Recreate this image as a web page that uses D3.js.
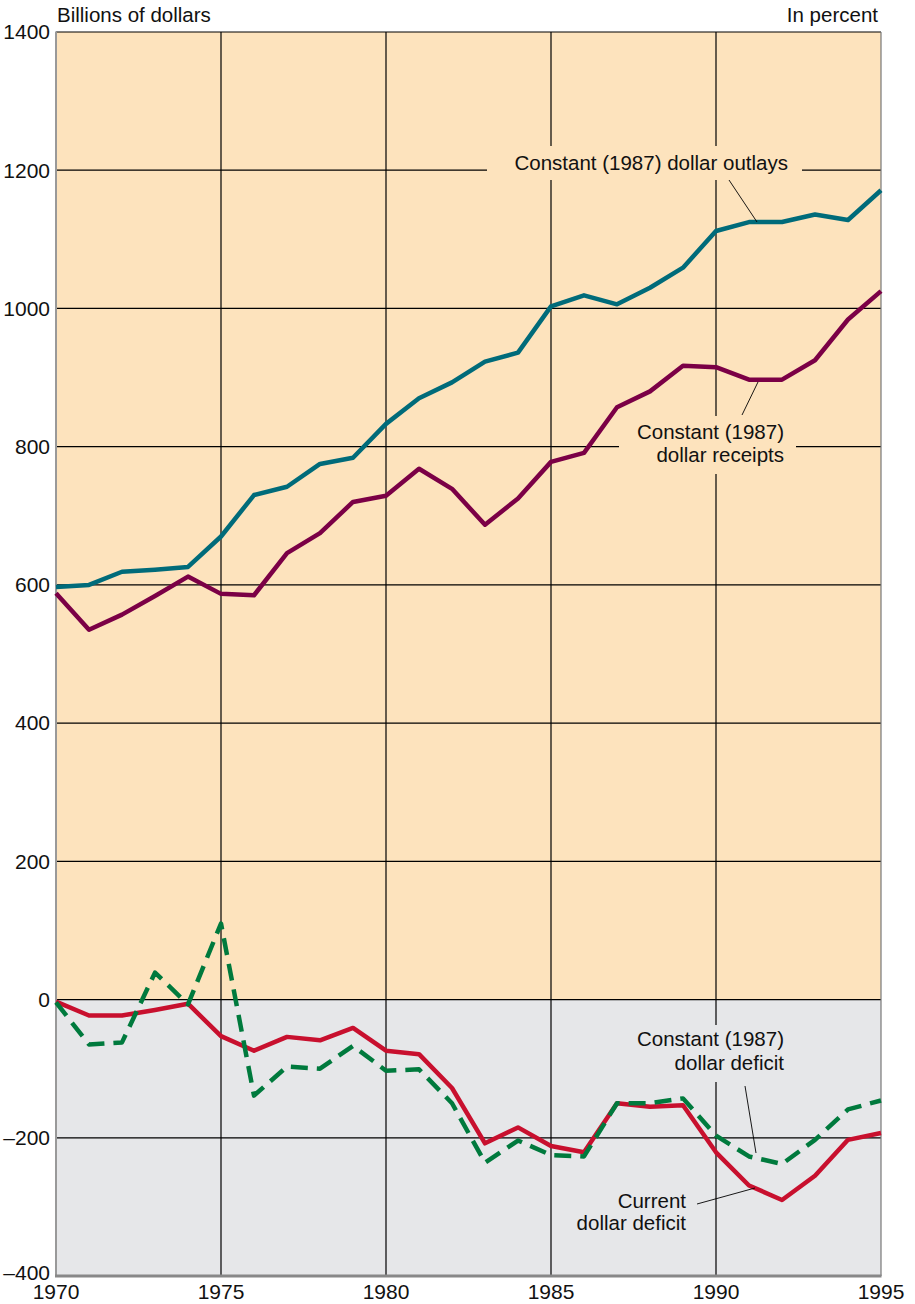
<!DOCTYPE html>
<html><head><meta charset="utf-8">
<script src="https://cdn.jsdelivr.net/npm/d3@7"></script>
<style>body{margin:0;background:#fff}svg{display:block;font-family:"Liberation Sans",Arial,sans-serif}</style>
</head><body><svg id="c" width="915" height="1304"></svg>
<script>
const years = d3.range(1970, 1996);
const outlays = [597,600,619,622,626,670,730,742,775,784,833,870,893,923,936,1003,1019,1006,1030,1059,1112,1125,1125,1136,1128,1171];
const receipts = [588,535,557,584,612,587,585,646,675,720,729,768,739,687,725,778,791,857,880,917,915,897,897,925,984,1025];
const currentDeficit = [-3,-23,-23,-15,-6,-53,-74,-54,-59,-41,-74,-79,-128,-208,-185,-212,-221,-150,-155,-153,-221,-269,-290,-255,-203,-193];
const constantDeficit = [-4,-65,-62,39,-7,110,-139,-97,-100,-67,-103,-101,-150,-236,-204,-225,-227,-150,-150,-143,-197,-227,-238,-203,-159,-146];
const yTicks = [-400,-200,0,200,400,600,800,1000,1200,1400];
const xTicks = [1970,1975,1980,1985,1990,1995];

const svg = d3.select("#c");
const x = d3.scaleLinear().domain([1970,1995]).range([56,881]);
const y = d3.scaleLinear().domain([-400,1400]).range([1276,32]);

// backgrounds
svg.append("rect").attr("x",x(1970)).attr("y",y(1400)).attr("width",x(1995)-x(1970)).attr("height",y(0)-y(1400)).attr("fill","#fde3bd");
svg.append("rect").attr("x",x(1970)).attr("y",y(0)).attr("width",x(1995)-x(1970)).attr("height",y(-400)-y(0)).attr("fill","#e6e7e9");

// gridlines
svg.append("g").selectAll("line").data(yTicks.filter(d=>d>-400)).join("line")
  .attr("x1",x(1970)).attr("x2",x(1995)).attr("y1",d=>y(d)).attr("y2",d=>y(d))
  .attr("stroke","#000").attr("stroke-width",1.2);
svg.append("g").selectAll("line").data(xTicks.filter(d=>d>1970&&d<1995)).join("line")
  .attr("x1",d=>x(d)).attr("x2",d=>x(d)).attr("y1",y(1400)).attr("y2",y(-400))
  .attr("stroke","#000").attr("stroke-width",1.2);
// axes borders
svg.append("line").attr("x1",x(1995)).attr("x2",x(1995)).attr("y1",y(1400)).attr("y2",y(-400)).attr("stroke","#777").attr("stroke-width",1.2);
svg.append("line").attr("x1",x(1970)).attr("x2",x(1970)).attr("y1",y(1400)-0.5).attr("y2",y(-400)).attr("stroke","#999").attr("stroke-width",2);
svg.append("line").attr("x1",x(1970)-1).attr("x2",x(1995)+0.5).attr("y1",y(-400)).attr("y2",y(-400)).attr("stroke","#888").attr("stroke-width",3);

// label background patches (break gridlines)
const bgTop = "#fde3bd", bgBot = "#e6e7e9";
[[487,146,315,34,bgTop],[619,416,177,58,bgTop],[626,1025,160,57,bgBot]].forEach(r=>{
  svg.append("rect").attr("x",r[0]).attr("y",r[1]).attr("width",r[2]).attr("height",r[3]).attr("fill",r[4]);
});

// tick labels
svg.append("g").selectAll("text").data(yTicks).join("text")
  .attr("x",50).attr("y",d=>d===-400?y(d)-3:y(d)).attr("dy","0.35em").attr("text-anchor","end")
  .attr("font-size",21).attr("fill","#111").text(d=>d<0?"\u2013"+Math.abs(d):d);
svg.append("g").selectAll("text").data(xTicks).join("text")
  .attr("x",d=>x(d)).attr("y",1299).attr("text-anchor","middle")
  .attr("font-size",21).attr("fill","#111").text(d=>d);
svg.append("text").attr("x",57).attr("y",22).attr("font-size",20.5).attr("fill","#111").text("Billions of dollars");
svg.append("text").attr("x",878).attr("y",22).attr("text-anchor","end").attr("font-size",20.5).attr("fill","#111").text("In percent");

// data lines
const line = d3.line().x((d,i)=>x(years[i])).y(d=>y(d));
function draw(data,color,dash){
  const p = svg.append("path").attr("d",line(data)).attr("fill","none").attr("stroke",color)
    .attr("stroke-width",4.5).attr("stroke-linejoin","round");
  if(dash) p.attr("stroke-dasharray",dash);
}
draw(outlays,"#006b7a");
draw(receipts,"#7b0046");
draw(currentDeficit,"#c8102e");
draw(constantDeficit,"#007a3d","17,9");

// annotations
function lbl(xp,yp,t,anchor){
  svg.append("text").attr("x",xp).attr("y",yp).attr("dy","0.35em").attr("text-anchor",anchor||"end")
    .attr("font-size",20.5).attr("fill","#111").text(t);
}
lbl(788,163,"Constant (1987) dollar outlays");
lbl(784,432,"Constant (1987)");
lbl(784,455,"dollar receipts");
lbl(784,1039,"Constant (1987)");
lbl(784,1063,"dollar deficit");
lbl(686,1201,"Current");
lbl(686,1223,"dollar deficit");
function leader(x1,y1,x2,y2){
  svg.append("line").attr("x1",x1).attr("y1",y1).attr("x2",x2).attr("y2",y2).attr("stroke","#000").attr("stroke-width",0.9);
}
leader(729,180,757,222);
leader(742,415,758,382);
leader(745,1086,756,1153);
leader(697,1204,755,1188);
</script></body></html>
